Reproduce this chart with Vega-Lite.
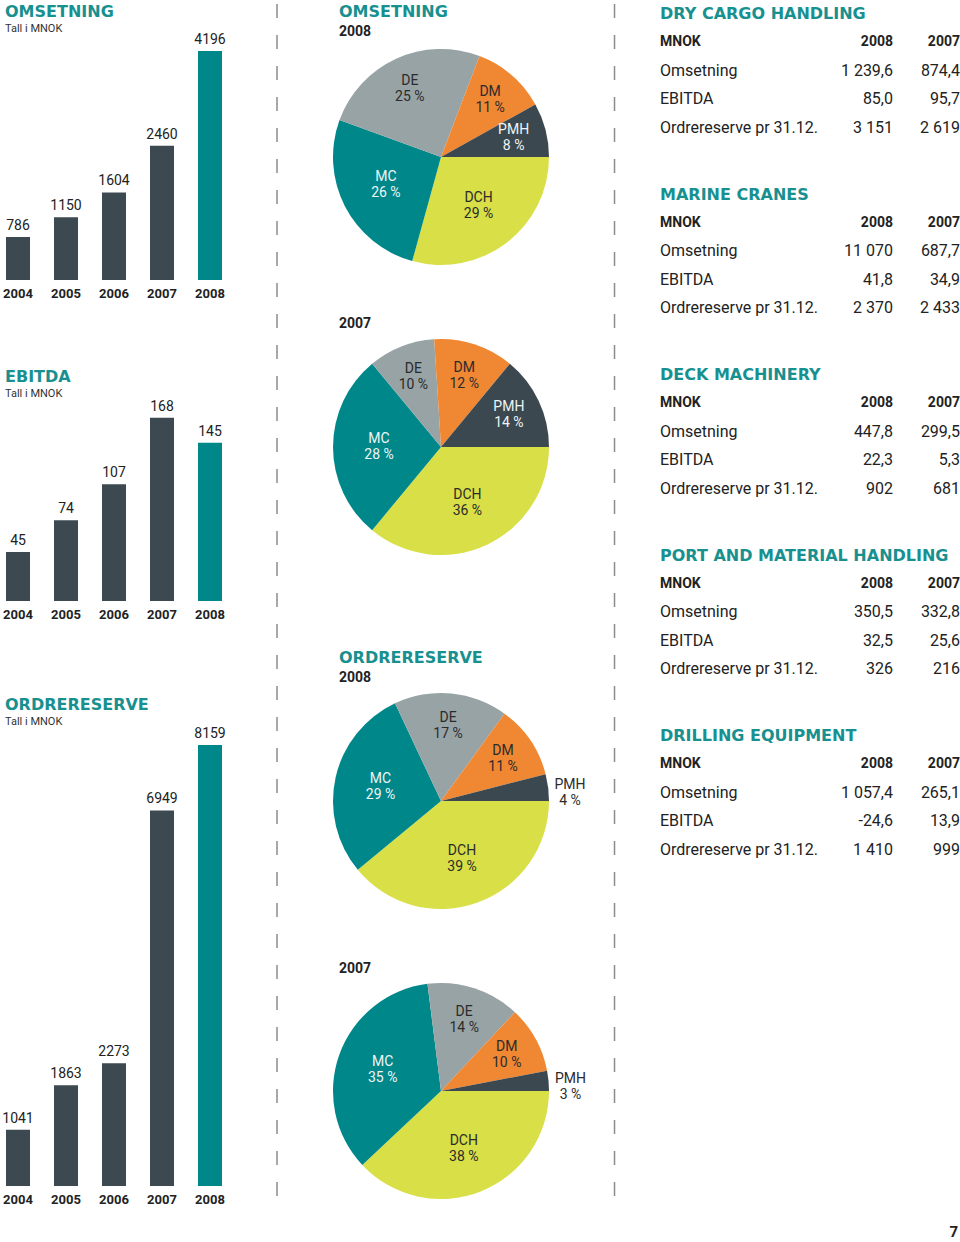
{
  "$schema": "https://vega.github.io/schema/vega-lite/v6.json",
  "padding": {"left": 0, "top": 3, "right": 0, "bottom": 0},
  "background": "white",
  "config": {
    "font": "Roboto",
    "view": {"stroke": null},
    "title": {"anchor": "start", "frame": "group", "font": "DejaVu Sans", "fontSize": 16, "fontWeight": "bold", "color": "#17908f", "subtitleFont": "Roboto", "subtitleFontSize": 11, "subtitleColor": "#333333", "subtitlePadding": 3, "offset": 0},
    "axis": {"title": null, "ticks": false, "tickSize": 0, "domain": false, "grid": false, "labelPadding": 7, "labelFontWeight": "bold", "labelFontSize": 13, "labelColor": "#222222", "labelAngle": 0}
  },
  "title": {"text": "7", "orient": "bottom", "anchor": "end", "frame": "bounds", "font": "Roboto", "fontSize": 15, "fontWeight": "bold", "color": "#222222", "offset": 19, "dx": -2},
  "spacing": 0,
  "hconcat": [
    {
      "spacing": 69,
      "vconcat": [
        {
          "width": 228, "height": 252,
          "title": {"text": "OMSETNING", "subtitle": "Tall i MNOK", "dx": 5, "offset": -6},
          "data": {"values": [{"year": "2004", "value": 786}, {"year": "2005", "value": 1150}, {"year": "2006", "value": 1604}, {"year": "2007", "value": 2460}, {"year": "2008", "value": 4196}]},
          "encoding": {
            "x": {"field": "year", "type": "ordinal", "scale": {"paddingInner": 0.5, "paddingOuter": 0.125}},
            "y": {"field": "value", "type": "quantitative", "scale": {"domain": [0, 4617.5], "nice": false}, "axis": null}
          },
          "layer": [
            {"mark": {"type": "bar"}, "encoding": {"color": {"condition": {"test": "datum.year === '2008'", "value": "#00878a"}, "value": "#3d4950"}}},
            {"mark": {"type": "text", "baseline": "alphabetic", "dy": -7, "fontSize": 14, "color": "#222222"}, "encoding": {"text": {"field": "value", "type": "quantitative", "format": "d"}}}
          ]
        },
        {
          "width": 228, "height": 205,
          "title": {"text": "EBITDA", "subtitle": "Tall i MNOK", "dx": 5, "offset": -3},
          "data": {"values": [{"year": "2004", "value": 45}, {"year": "2005", "value": 74}, {"year": "2006", "value": 107}, {"year": "2007", "value": 168}, {"year": "2008", "value": 145}]},
          "encoding": {
            "x": {"field": "year", "type": "ordinal", "scale": {"paddingInner": 0.5, "paddingOuter": 0.125}, "axis": {"minExtent": 27}},
            "y": {"field": "value", "type": "quantitative", "scale": {"domain": [0, 187.9], "nice": false}, "axis": null}
          },
          "layer": [
            {"mark": {"type": "bar"}, "encoding": {"color": {"condition": {"test": "datum.year === '2008'", "value": "#00878a"}, "value": "#3d4950"}}},
            {"mark": {"type": "text", "baseline": "alphabetic", "dy": -7, "fontSize": 14, "color": "#222222"}, "encoding": {"text": {"field": "value", "type": "quantitative", "format": "d"}}}
          ]
        },
        {
          "width": 228, "height": 463,
          "title": {"text": "ORDRERESERVE", "subtitle": "Tall i MNOK", "dx": 5, "offset": -4},
          "data": {"values": [{"year": "2004", "value": 1041}, {"year": "2005", "value": 1863}, {"year": "2006", "value": 2273}, {"year": "2007", "value": 6949}, {"year": "2008", "value": 8159}]},
          "encoding": {
            "x": {"field": "year", "type": "ordinal", "scale": {"paddingInner": 0.5, "paddingOuter": 0.125}},
            "y": {"field": "value", "type": "quantitative", "scale": {"domain": [0, 8566], "nice": false}, "axis": null}
          },
          "layer": [
            {"mark": {"type": "bar"}, "encoding": {"color": {"condition": {"test": "datum.year === '2008'", "value": "#00878a"}, "value": "#3d4950"}}},
            {"mark": {"type": "text", "baseline": "alphabetic", "dy": -7, "fontSize": 14, "color": "#222222"}, "encoding": {"text": {"field": "value", "type": "quantitative", "format": "d"}}}
          ]
        }
      ]
    },
    {
      "width": 98, "height": 1175,
      "data": {"values": [{}]},
      "mark": {"type": "rule", "color": "#8c8c8c", "strokeWidth": 1.5, "strokeDash": [14, 17]},
      "encoding": {
        "x": {"datum": "sep", "type": "nominal", "scale": {"type": "point", "align": 0.5}, "axis": null},
        "y": {"datum": 1199, "type": "quantitative", "scale": {"domain": [0, 1175], "nice": false, "zero": false}, "axis": null},
        "y2": {"datum": 0}
      }
    },
    {
      "spacing": 95,
      "vconcat": [
        {
          "spacing": 31,
          "vconcat": [
            {
              "width": 230, "height": 258,
              "title": {"text": "OMSETNING", "subtitle": "2008", "dx": 13, "subtitleFont": "Roboto", "subtitleFontSize": 14, "subtitleFontWeight": "bold", "subtitleColor": "#222222", "subtitlePadding": 5, "offset": -11},
              "data": {"values": [{"seg": "DCH", "pct": 29}, {"seg": "MC", "pct": 26}, {"seg": "DE", "pct": 25}, {"seg": "DM", "pct": 11}, {"seg": "PMH", "pct": 8}]},
              "transform": [
                {"window": [{"op": "row_number", "as": "rn"}]},
                {"stack": "pct", "groupby": [], "sort": [{"field": "rn", "order": "ascending"}], "offset": "normalize", "as": ["s0", "s1"]},
                {"calculate": "(datum.s0 + datum.s1) / 2", "as": "mid"},
                {"calculate": "[datum.seg, datum.pct + ' %']", "as": "lab"}
              ],
              "layer": [
                {"mark": {"type": "arc", "outerRadius": 108}, "encoding": {"theta": {"field": "s0", "type": "quantitative", "stack": null, "scale": {"domain": [0, 1], "range": [1.5707963, 7.8539816]}}, "theta2": {"field": "s1"}, "color": {"field": "seg", "type": "nominal", "scale": {"domain": ["DCH", "MC", "DE", "DM", "PMH"], "range": ["#d8df47", "#00878a", "#98a3a5", "#f08733", "#3c4850"]}, "legend": null}}},
                {"transform": [{"filter": "datum.seg === 'DCH' || datum.seg === 'MC'"}], "mark": {"type": "text", "radius": 62, "dy": -8, "fontSize": 14, "lineHeight": 16, "baseline": "middle", "align": "center"}, "encoding": {"theta": {"field": "mid", "type": "quantitative", "scale": {"domain": [0, 1], "range": [1.5707963, 7.8539816]}}, "text": {"field": "lab"}, "color": {"condition": {"test": "datum.seg === 'MC'", "value": "#eef5f5"}, "value": "#2b2b2b"}}},
                {"transform": [{"filter": "datum.seg !== 'DCH' && datum.seg !== 'MC' && datum.pct >= 5"}], "mark": {"type": "text", "radius": 75, "dy": -8, "fontSize": 14, "lineHeight": 16, "baseline": "middle", "align": "center"}, "encoding": {"theta": {"field": "mid", "type": "quantitative", "scale": {"domain": [0, 1], "range": [1.5707963, 7.8539816]}}, "text": {"field": "lab"}, "color": {"condition": {"test": "datum.seg === 'PMH'", "value": "#eef5f5"}, "value": "#2b2b2b"}}},
                {"transform": [{"filter": "datum.pct < 5"}], "mark": {"type": "text", "radius": 130, "fontSize": 14, "lineHeight": 16, "baseline": "middle", "align": "center", "color": "#2b2b2b"}, "encoding": {"theta": {"field": "mid", "type": "quantitative", "scale": {"domain": [0, 1], "range": [1.5707963, 7.8539816]}}, "text": {"field": "lab"}}}
              ]
            },
            {
              "width": 230, "height": 216,
              "title": {"text": "2007", "font": "Roboto", "fontSize": 14, "color": "#222222", "dx": 13, "offset": 8},
              "data": {"values": [{"seg": "DCH", "pct": 36}, {"seg": "MC", "pct": 28}, {"seg": "DE", "pct": 10}, {"seg": "DM", "pct": 12}, {"seg": "PMH", "pct": 14}]},
              "transform": [
                {"window": [{"op": "row_number", "as": "rn"}]},
                {"stack": "pct", "groupby": [], "sort": [{"field": "rn", "order": "ascending"}], "offset": "normalize", "as": ["s0", "s1"]},
                {"calculate": "(datum.s0 + datum.s1) / 2", "as": "mid"},
                {"calculate": "[datum.seg, datum.pct + ' %']", "as": "lab"}
              ],
              "layer": [
                {"mark": {"type": "arc", "outerRadius": 108}, "encoding": {"theta": {"field": "s0", "type": "quantitative", "stack": null, "scale": {"domain": [0, 1], "range": [1.5707963, 7.8539816]}}, "theta2": {"field": "s1"}, "color": {"field": "seg", "type": "nominal", "scale": {"domain": ["DCH", "MC", "DE", "DM", "PMH"], "range": ["#d8df47", "#00878a", "#98a3a5", "#f08733", "#3c4850"]}, "legend": null}}},
                {"transform": [{"filter": "datum.seg === 'DCH' || datum.seg === 'MC'"}], "mark": {"type": "text", "radius": 62, "dy": -8, "fontSize": 14, "lineHeight": 16, "baseline": "middle", "align": "center"}, "encoding": {"theta": {"field": "mid", "type": "quantitative", "scale": {"domain": [0, 1], "range": [1.5707963, 7.8539816]}}, "text": {"field": "lab"}, "color": {"condition": {"test": "datum.seg === 'MC'", "value": "#eef5f5"}, "value": "#2b2b2b"}}},
                {"transform": [{"filter": "datum.seg !== 'DCH' && datum.seg !== 'MC' && datum.pct >= 5"}], "mark": {"type": "text", "radius": 75, "dy": -8, "fontSize": 14, "lineHeight": 16, "baseline": "middle", "align": "center"}, "encoding": {"theta": {"field": "mid", "type": "quantitative", "scale": {"domain": [0, 1], "range": [1.5707963, 7.8539816]}}, "text": {"field": "lab"}, "color": {"condition": {"test": "datum.seg === 'PMH'", "value": "#eef5f5"}, "value": "#2b2b2b"}}},
                {"transform": [{"filter": "datum.pct < 5"}], "mark": {"type": "text", "radius": 130, "fontSize": 14, "lineHeight": 16, "baseline": "middle", "align": "center", "color": "#2b2b2b"}, "encoding": {"theta": {"field": "mid", "type": "quantitative", "scale": {"domain": [0, 1], "range": [1.5707963, 7.8539816]}}, "text": {"field": "lab"}}}
              ]
            }
          ]
        },
        {
          "spacing": 53,
          "vconcat": [
            {
              "width": 230, "height": 216,
              "title": {"text": "ORDRERESERVE", "subtitle": "2008", "dx": 13, "subtitleFont": "Roboto", "subtitleFontSize": 14, "subtitleFontWeight": "bold", "subtitleColor": "#222222", "subtitlePadding": 5, "offset": 8},
              "data": {"values": [{"seg": "DCH", "pct": 39}, {"seg": "MC", "pct": 29}, {"seg": "DE", "pct": 17}, {"seg": "DM", "pct": 11}, {"seg": "PMH", "pct": 4}]},
              "transform": [
                {"window": [{"op": "row_number", "as": "rn"}]},
                {"stack": "pct", "groupby": [], "sort": [{"field": "rn", "order": "ascending"}], "offset": "normalize", "as": ["s0", "s1"]},
                {"calculate": "(datum.s0 + datum.s1) / 2", "as": "mid"},
                {"calculate": "[datum.seg, datum.pct + ' %']", "as": "lab"}
              ],
              "layer": [
                {"mark": {"type": "arc", "outerRadius": 108}, "encoding": {"theta": {"field": "s0", "type": "quantitative", "stack": null, "scale": {"domain": [0, 1], "range": [1.5707963, 7.8539816]}}, "theta2": {"field": "s1"}, "color": {"field": "seg", "type": "nominal", "scale": {"domain": ["DCH", "MC", "DE", "DM", "PMH"], "range": ["#d8df47", "#00878a", "#98a3a5", "#f08733", "#3c4850"]}, "legend": null}}},
                {"transform": [{"filter": "datum.seg === 'DCH' || datum.seg === 'MC'"}], "mark": {"type": "text", "radius": 62, "dy": -8, "fontSize": 14, "lineHeight": 16, "baseline": "middle", "align": "center"}, "encoding": {"theta": {"field": "mid", "type": "quantitative", "scale": {"domain": [0, 1], "range": [1.5707963, 7.8539816]}}, "text": {"field": "lab"}, "color": {"condition": {"test": "datum.seg === 'MC'", "value": "#eef5f5"}, "value": "#2b2b2b"}}},
                {"transform": [{"filter": "datum.seg !== 'DCH' && datum.seg !== 'MC' && datum.pct >= 5"}], "mark": {"type": "text", "radius": 75, "dy": -8, "fontSize": 14, "lineHeight": 16, "baseline": "middle", "align": "center"}, "encoding": {"theta": {"field": "mid", "type": "quantitative", "scale": {"domain": [0, 1], "range": [1.5707963, 7.8539816]}}, "text": {"field": "lab"}, "color": {"condition": {"test": "datum.seg === 'PMH'", "value": "#eef5f5"}, "value": "#2b2b2b"}}},
                {"transform": [{"filter": "datum.pct < 5"}], "mark": {"type": "text", "radius": 130, "fontSize": 14, "lineHeight": 16, "baseline": "middle", "align": "center", "color": "#2b2b2b"}, "encoding": {"theta": {"field": "mid", "type": "quantitative", "scale": {"domain": [0, 1], "range": [1.5707963, 7.8539816]}}, "text": {"field": "lab"}}}
              ]
            },
            {
              "width": 230, "height": 216,
              "title": {"text": "2007", "font": "Roboto", "fontSize": 14, "color": "#222222", "dx": 13, "offset": 7},
              "data": {"values": [{"seg": "DCH", "pct": 38}, {"seg": "MC", "pct": 35}, {"seg": "DE", "pct": 14}, {"seg": "DM", "pct": 10}, {"seg": "PMH", "pct": 3}]},
              "transform": [
                {"window": [{"op": "row_number", "as": "rn"}]},
                {"stack": "pct", "groupby": [], "sort": [{"field": "rn", "order": "ascending"}], "offset": "normalize", "as": ["s0", "s1"]},
                {"calculate": "(datum.s0 + datum.s1) / 2", "as": "mid"},
                {"calculate": "[datum.seg, datum.pct + ' %']", "as": "lab"}
              ],
              "layer": [
                {"mark": {"type": "arc", "outerRadius": 108}, "encoding": {"theta": {"field": "s0", "type": "quantitative", "stack": null, "scale": {"domain": [0, 1], "range": [1.5707963, 7.8539816]}}, "theta2": {"field": "s1"}, "color": {"field": "seg", "type": "nominal", "scale": {"domain": ["DCH", "MC", "DE", "DM", "PMH"], "range": ["#d8df47", "#00878a", "#98a3a5", "#f08733", "#3c4850"]}, "legend": null}}},
                {"transform": [{"filter": "datum.seg === 'DCH' || datum.seg === 'MC'"}], "mark": {"type": "text", "radius": 62, "dy": -8, "fontSize": 14, "lineHeight": 16, "baseline": "middle", "align": "center"}, "encoding": {"theta": {"field": "mid", "type": "quantitative", "scale": {"domain": [0, 1], "range": [1.5707963, 7.8539816]}}, "text": {"field": "lab"}, "color": {"condition": {"test": "datum.seg === 'MC'", "value": "#eef5f5"}, "value": "#2b2b2b"}}},
                {"transform": [{"filter": "datum.seg !== 'DCH' && datum.seg !== 'MC' && datum.pct >= 5"}], "mark": {"type": "text", "radius": 75, "dy": -8, "fontSize": 14, "lineHeight": 16, "baseline": "middle", "align": "center"}, "encoding": {"theta": {"field": "mid", "type": "quantitative", "scale": {"domain": [0, 1], "range": [1.5707963, 7.8539816]}}, "text": {"field": "lab"}, "color": {"condition": {"test": "datum.seg === 'PMH'", "value": "#eef5f5"}, "value": "#2b2b2b"}}},
                {"transform": [{"filter": "datum.pct < 5"}], "mark": {"type": "text", "radius": 130, "fontSize": 14, "lineHeight": 16, "baseline": "middle", "align": "center", "color": "#2b2b2b"}, "encoding": {"theta": {"field": "mid", "type": "quantitative", "scale": {"domain": [0, 1], "range": [1.5707963, 7.8539816]}}, "text": {"field": "lab"}}}
              ]
            }
          ]
        }
      ]
    },
    {
      "width": 73.5, "height": 1175,
      "data": {"values": [{}]},
      "mark": {"type": "rule", "color": "#8c8c8c", "strokeWidth": 1.5, "strokeDash": [14, 17]},
      "encoding": {
        "x": {"datum": "sep", "type": "nominal", "scale": {"type": "point", "align": 0.388}, "axis": null},
        "y": {"datum": 1199, "type": "quantitative", "scale": {"domain": [0, 1175], "nice": false, "zero": false}, "axis": null},
        "y2": {"datum": 0}
      }
    },
    {
      "data": {"values": [
        {"sec": "DRY CARGO HANDLING", "item": "MNOK", "a": "2008", "b": "2007"},
        {"sec": "DRY CARGO HANDLING", "item": "Omsetning", "a": "1 239,6", "b": "874,4"},
        {"sec": "DRY CARGO HANDLING", "item": "EBITDA", "a": "85,0", "b": "95,7"},
        {"sec": "DRY CARGO HANDLING", "item": "Ordrereserve pr 31.12.", "a": "3 151", "b": "2 619"},
        {"sec": "MARINE CRANES", "item": "MNOK", "a": "2008", "b": "2007"},
        {"sec": "MARINE CRANES", "item": "Omsetning", "a": "11 070", "b": "687,7"},
        {"sec": "MARINE CRANES", "item": "EBITDA", "a": "41,8", "b": "34,9"},
        {"sec": "MARINE CRANES", "item": "Ordrereserve pr 31.12.", "a": "2 370", "b": "2 433"},
        {"sec": "DECK MACHINERY", "item": "MNOK", "a": "2008", "b": "2007"},
        {"sec": "DECK MACHINERY", "item": "Omsetning", "a": "447,8", "b": "299,5"},
        {"sec": "DECK MACHINERY", "item": "EBITDA", "a": "22,3", "b": "5,3"},
        {"sec": "DECK MACHINERY", "item": "Ordrereserve pr 31.12.", "a": "902", "b": "681"},
        {"sec": "PORT AND MATERIAL HANDLING", "item": "MNOK", "a": "2008", "b": "2007"},
        {"sec": "PORT AND MATERIAL HANDLING", "item": "Omsetning", "a": "350,5", "b": "332,8"},
        {"sec": "PORT AND MATERIAL HANDLING", "item": "EBITDA", "a": "32,5", "b": "25,6"},
        {"sec": "PORT AND MATERIAL HANDLING", "item": "Ordrereserve pr 31.12.", "a": "326", "b": "216"},
        {"sec": "DRILLING EQUIPMENT", "item": "MNOK", "a": "2008", "b": "2007"},
        {"sec": "DRILLING EQUIPMENT", "item": "Omsetning", "a": "1 057,4", "b": "265,1"},
        {"sec": "DRILLING EQUIPMENT", "item": "EBITDA", "a": "-24,6", "b": "13,9"},
        {"sec": "DRILLING EQUIPMENT", "item": "Ordrereserve pr 31.12.", "a": "1 410", "b": "999"}
      ]},
      "facet": {"field": "sec", "type": "nominal", "sort": ["DRY CARGO HANDLING", "MARINE CRANES", "DECK MACHINERY", "PORT AND MATERIAL HANDLING", "DRILLING EQUIPMENT"], "title": null, "header": {"labelFont": "DejaVu Sans", "labelFontSize": 16, "labelFontWeight": "bold", "labelColor": "#17908f", "labelAnchor": "start", "labelAlign": "left", "labelPadding": 6, "labelLimit": 300}},
      "columns": 1,
      "spacing": 44.5,
      "spec": {
        "width": 300, "height": 114,
        "resolve": {"scale": {"x": "independent"}},
        "encoding": {"y": {"field": "item", "type": "nominal", "scale": {"domain": ["MNOK", "Omsetning", "EBITDA", "Ordrereserve pr 31.12."], "paddingInner": 0, "paddingOuter": 0}, "axis": null}},
        "layer": [
          {"transform": [{"filter": "datum.item === 'MNOK'"}], "mark": {"type": "text", "align": "left", "baseline": "middle", "fontSize": 14, "fontWeight": "bold", "color": "#222222"}, "encoding": {"x": {"datum": "item", "type": "nominal", "scale": {"type": "point", "align": 0}, "axis": null}, "text": {"field": "item"}}},
          {"transform": [{"filter": "datum.item !== 'MNOK'"}], "mark": {"type": "text", "align": "left", "baseline": "middle", "fontSize": 16, "color": "#222222"}, "encoding": {"x": {"datum": "item", "type": "nominal", "scale": {"type": "point", "align": 0}, "axis": null}, "text": {"field": "item"}}},
          {"transform": [{"filter": "datum.item === 'MNOK'"}, {"fold": ["a", "b"], "as": ["col", "val"]}], "mark": {"type": "text", "align": "right", "baseline": "middle", "fontSize": 14, "fontWeight": "bold", "color": "#222222"}, "encoding": {"x": {"field": "col", "type": "nominal", "scale": {"type": "point", "domain": ["a", "b"], "padding": 0, "range": [233, 300]}, "axis": null}, "text": {"field": "val"}}},
          {"transform": [{"filter": "datum.item !== 'MNOK'"}, {"fold": ["a", "b"], "as": ["col", "val"]}], "mark": {"type": "text", "align": "right", "baseline": "middle", "fontSize": 16, "color": "#222222"}, "encoding": {"x": {"field": "col", "type": "nominal", "scale": {"type": "point", "domain": ["a", "b"], "padding": 0, "range": [233, 300]}, "axis": null}, "text": {"field": "val"}}}
        ]
      }
    }
  ]
}
